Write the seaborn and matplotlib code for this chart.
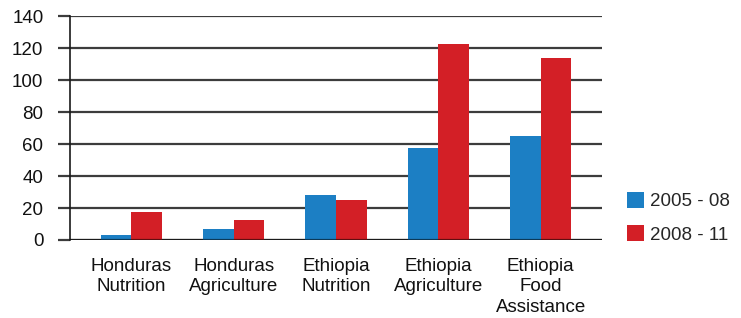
import pandas as pd
import matplotlib
matplotlib.use("Agg")
import matplotlib.pyplot as plt
import seaborn as sns

# --- Data ---
categories = ["Honduras\nNutrition", "Honduras\nAgriculture", "Ethiopia\nNutrition",
              "Ethiopia\nAgriculture", "Ethiopia\nFood\nAssistance"]
periods = ["2005 - 08", "2008 - 11"]
values_2005_08 = [3, 7, 28, 57.5, 65]
values_2008_11 = [17.5, 12.5, 25, 122.5, 114]
yticks = [0, 20, 40, 60, 80, 100, 120, 140]

colors = ["#1c7fc4", "#d31f26"]

rows = []
for cat, a, b in zip(categories, values_2005_08, values_2008_11):
    rows.append({"category": cat, "period": periods[0], "value": a})
    rows.append({"category": cat, "period": periods[1], "value": b})
df = pd.DataFrame(rows)

sns.set_style("white")
plt.rcParams["font.family"] = ["Liberation Sans", "DejaVu Sans"]

W, H = 741, 318
fig = plt.figure(figsize=(W / 100, H / 100), dpi=100)
ax = fig.add_axes([70 / W, 1 - 240 / H, (602 - 70) / W, (240 - 16) / H])

sns.barplot(data=df, x="category", y="value", hue="period", hue_order=periods,
            order=categories, palette=colors, saturation=1, width=0.6,
            gap=0, linewidth=0, ax=ax, legend=True)

ax.set_ylim(0, 140)
ax.set_xlim(-0.6, 4.6)
ax.set_yticks(yticks)
ax.set_xlabel("")
ax.set_ylabel("")

# grid and spines
ax.set_axisbelow(True)
ax.yaxis.grid(True, color="#3c3c3c", linewidth=1.6)
ax.xaxis.grid(False)
for side in ["top", "right", "bottom"]:
    ax.spines[side].set_visible(False)
ax.spines["left"].set_color("#1a1a1a")
ax.spines["left"].set_linewidth(1.2)
ax.axhline(0, color="#000000", alpha=0.55, linewidth=1.6, zorder=3)

ax.tick_params(axis="y", length=8.6, width=1.6, color="#3c3c3c", pad=10.5,
               labelsize=13.5, labelcolor="#111111", direction="out", left=True)
ax.tick_params(axis="x", length=0, pad=13, labelsize=13.5, labelcolor="#111111")
for lbl in ax.get_xticklabels():
    lbl.set_linespacing(1.25)

leg = ax.legend(loc="upper left", bbox_to_anchor=(627 / W, 1 - 192 / H),
                bbox_transform=fig.transFigure, frameon=False, fontsize=13.5,
                handlelength=0.92, handleheight=0.92, handletextpad=0.3,
                labelspacing=0.8, borderpad=0, borderaxespad=0)

fig.savefig("out.png", dpi=100)
